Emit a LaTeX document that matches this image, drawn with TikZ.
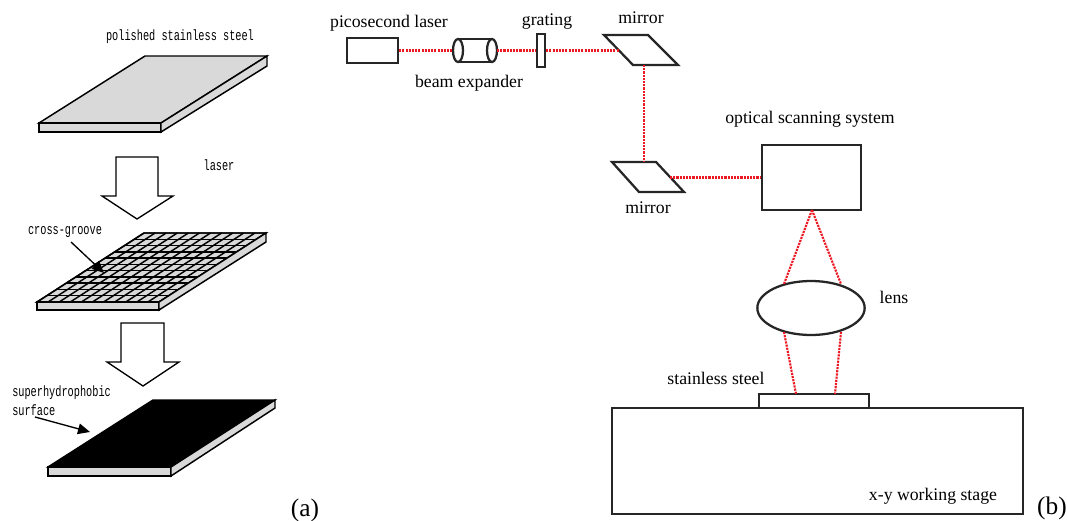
\documentclass[tikz,border=0pt]{standalone}
\usepackage{graphicx}
\usepackage{fontspec}
\setmainfont{Liberation Serif}
\setmonofont{Liberation Mono}
\usetikzlibrary{calc,arrows.meta,shapes.geometric}
\definecolor{plategray}{RGB}{217,217,217}
\definecolor{beamred}{RGB}{235,25,35}
\newcommand\tallmono[1]{\scalebox{1}[1.45]{#1}}
\begin{document}
\begin{tikzpicture}[x=0.75pt,y=-0.75pt,
  outline/.style={draw=black,line width=1.1pt,line join=miter},
  monolabel/.style={inner sep=0pt,font=\fontsize{7.7}{9}\selectfont\ttfamily},
  seriflabel/.style={inner sep=0pt,font=\fontsize{13.3}{16}\selectfont},
  panellabel/.style={inner sep=0pt,font=\fontsize{19}{22}\selectfont},
  part/.style={draw=black!85,line width=1.7pt,inner sep=0pt,fill=white},
  beam/.style={draw=beamred,line width=1.6pt,dash pattern=on 1.6pt off 0.8pt},
  blockarrow/.style={draw=black,line width=1pt,fill=white,line join=miter},
  pointer/.style={draw=black,line width=1pt,-{Triangle[length=9pt,width=8pt]}}]
\useasboundingbox (0,0) rectangle (1068,521);

%% ---------- (a) process steps ----------
% polished plate
\draw[outline,fill=plategray] (39,123) -- (145,56) -- (267,56) -- (161,123) -- cycle;
\draw[outline,fill=plategray] (39,123) rectangle (161,132);
\draw[outline,fill=plategray] (161,123) -- (267,56) -- (267,66) -- (161,132) -- cycle;
\node[monolabel] (lpolish) at (180,37) {\tallmono{polished stainless steel}};

% laser step arrow
\draw[blockarrow] (116,157) -- (158,157) -- (158,196) -- (173,196) -- (137,219) -- (102,196) -- (116,196) -- cycle;
\node[monolabel] (llaser) at (219,165) {\tallmono{laser}};

% grooved plate
\coordinate (gA) at (37,302);
\coordinate (gB) at (159,302);
\coordinate (gC) at (266,233);
\coordinate (gD) at (144,233);
\draw[outline,fill=plategray] (gA) -- (gB) -- (gC) -- (gD) -- cycle;
\foreach \i in {1,...,10}{
  \draw[black,line width=1.1pt] ($(gA)!\i/11!(gB)$) -- ($(gD)!\i/11!(gC)$);
  \draw[black,line width=1.1pt] ($(gA)!\i/11!(gD)$) -- ($(gB)!\i/11!(gC)$);
}
\draw[outline] (gA) -- (gB) -- (gC) -- (gD) -- cycle;
\draw[outline,fill=plategray] (37,302) rectangle (159,310);
\draw[outline,fill=plategray] (159,302) -- (266,233) -- (266,242) -- (159,310) -- cycle;
\node[monolabel] (lgroove) at (65,232) {\tallmono{cross-groove}};
\coordinate (groovetip) at (104,273);
\draw[pointer] (71,242) -- (groovetip);

% treatment step arrow
\draw[blockarrow] (121,323) -- (164,323) -- (164,362) -- (179,362) -- (143,386) -- (107,362) -- (121,362) -- cycle;

% superhydrophobic plate
\draw[outline,fill=black] (48,467) -- (171,467) -- (275,400) -- (153,400) -- cycle;
\draw[outline,fill=plategray] (48,467) rectangle (171,476);
\draw[outline,fill=plategray] (171,467) -- (275,400) -- (275,408) -- (171,476) -- cycle;
\node[monolabel,anchor=west] (lsuper) at (12,393) {\tallmono{superhydrophobic}};
\node[monolabel,anchor=west] (lsurf) at (12,410) {\tallmono{surface}};
\coordinate (supertip) at (90,432);
\draw[pointer] (35,417) -- (supertip);

\node[panellabel] (pa) at (305,510) {(a)};

%% ---------- (b) optical setup ----------
\node[part,minimum width=38.25pt,minimum height=18.75pt] (laser) at (372.5,50.5) {};
\node[seriflabel] (tlaser) at (389,23) {picosecond laser};

% beam expander (cylinder)
\draw[black!85,line width=1.7pt] (458,39) -- (492,39) (458,62) -- (492,62);
\draw[black!85,line width=1.7pt,fill=white] (458,50.5) ellipse [x radius=5, y radius=11.5];
\draw[black!85,line width=1.7pt] (492,50.5) ellipse [x radius=5, y radius=11.5];
\coordinate (expin) at (453,50.5);
\coordinate (expout) at (497,50.5);
\node[seriflabel] (texp) at (469,83) {beam expander};

\node[part,minimum width=6pt,minimum height=24.75pt] (grating) at (541,50.5) {};
\node[seriflabel] (tgrat) at (547,22) {grating};

% folding mirrors
\draw[black!85,line width=1.7pt,line join=miter] (604,35) -- (648,35) -- (678,65) -- (633,65) -- cycle;
\coordinate (m1in) at (619,50.5);
\coordinate (m1out) at (644,65);
\node[seriflabel] (tm1) at (641,18) {mirror};
\draw[black!85,line width=1.7pt,line join=miter] (612,162) -- (656,162) -- (684,192) -- (639,192) -- cycle;
\coordinate (m2in) at (644,162);
\coordinate (m2out) at (670,177.5);
\node[seriflabel] (tm2) at (648,208) {mirror};

\node[part,minimum width=74.25pt,minimum height=48.75pt] (scan) at (811.5,177.5) {};
\node[seriflabel] (tscan) at (810,119) {optical scanning system};

\node[part,ellipse,minimum width=80.5pt,minimum height=40.5pt] (lens) at (811,308) {};
\node[seriflabel] (tlens) at (894,297) {lens};

\node[part,minimum width=308.25pt,minimum height=79.5pt] (stage) at (817.5,461) {};
\node[part,minimum width=82.5pt,minimum height=10.5pt] (steel) at (814,401) {};
\node[seriflabel] (tsteel) at (716,378) {stainless steel};
\node[seriflabel] (tstage) at (933,496) {x-y working stage};

\node[panellabel] (pb) at (1052,508) {(b)};

% beam path
\coordinate (scanout) at (812,210);
\coordinate (lensinL) at (784,284);
\coordinate (lensinR) at (841,284);
\coordinate (lensoutL) at (784,332);
\coordinate (lensoutR) at (841,332);
\coordinate (spotL) at (796,394);
\coordinate (spotR) at (835,394);
\draw[beam] (laser.east) -- (expin);
\draw[beam] (expout) -- (grating.west);
\draw[beam] (grating.east) -- (m1in);
\draw[beam] (m1out) -- (m2in);
\draw[beam] (m2out) -- (scan.west);
\draw[beam] (scanout) -- (lensinL);
\draw[beam] (scanout) -- (lensinR);
\draw[beam] (lensoutL) -- (spotL);
\draw[beam] (lensoutR) -- (spotR);
\end{tikzpicture}
\end{document}
